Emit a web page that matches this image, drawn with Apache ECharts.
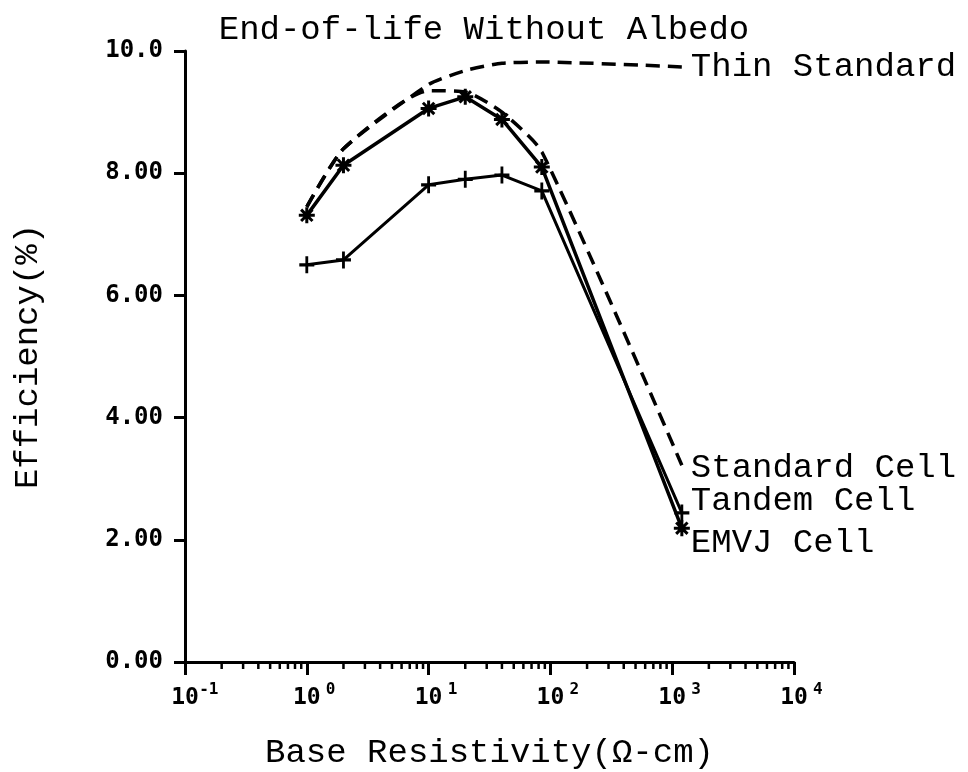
<!DOCTYPE html>
<html>
<head>
<meta charset="utf-8">
<script src="https://cdn.jsdelivr.net/npm/echarts@6/dist/echarts.min.js"></script>
<style>html,body{margin:0;padding:0;background:#fff}#c{width:968px;height:772px}</style>
</head>
<body>
<div id="c"></div>
<script>
// ---- data ----
const resistivity   = [1, 2, 10, 20, 40, 85, 1200];          // Ω-cm
const thinStandard  = [7.45, 8.40, 9.45, 9.68, 9.80, 9.82, 9.74];
const standardCell  = [7.45, 8.40, 9.35, 9.33, 9.00, 8.35, 3.22];
const tandemCell    = [6.50, 6.58, 7.81, 7.90, 7.97, 7.71, 2.44];
const emvjCell      = [7.31, 8.13, 9.06, 9.25, 8.88, 8.10, 2.19];
const seriesNames   = ['Thin Standard', 'Standard Cell', 'Tandem Cell', 'EMVJ Cell'];
const xTickExponents = ['-1', '0', '1', '2', '3', '4'];
const yTickLabels    = ['0.00', '2.00', '4.00', '6.00', '8.00', '10.0'];
const minorMultipliers = [2, 3, 4, 5, 6, 7, 8, 9];

const textFont = 'Liberation Mono';
const tickFont = 'DejaVu Sans Mono';

function pairs(vals) { return resistivity.map((r, i) => [r, vals[i]]); }

const minorTickValues = [];
xTickExponents.slice(0, -1).forEach(e => {
  minorMultipliers.forEach(k => minorTickValues.push([Number(k + 'e' + e), 0]));
});

const asterisk = 'path://M0 -8L0 8M-8 0L8 0M-5.7 -5.7L5.7 5.7M-5.7 5.7L5.7 -5.7';
const plus = 'path://M0 -8L0 8M-7 0L7 0';

function endLabel(name, dy) {
  return {
    show: true, formatter: name, distance: 9, offset: [0, dy],
    fontFamily: textFont, fontSize: 34, color: '#000'
  };
}

const chart = echarts.init(document.getElementById('c'), null, {renderer: 'canvas', width: 968, height: 772});
chart.setOption({
  animation: false,
  backgroundColor: '#fff',
  title: {
    text: 'End-of-life Without Albedo',
    left: 'center', top: 8,
    textStyle: {fontFamily: textFont, fontSize: 34, fontWeight: 'normal', color: '#000'}
  },
  grid: {left: 185, right: 174, top: 51, bottom: 110, outerBoundsMode: 'none', containLabel: false},
  xAxis: {
    type: 'log', logBase: 10, min: 0.1, max: 10000,
    name: 'Base Resistivity(Ω-cm)', nameLocation: 'middle', nameGap: 74,
    nameTextStyle: {fontFamily: textFont, fontSize: 34, color: '#000'},
    axisLine: {show: true, onZero: false, lineStyle: {color: '#000', width: 3}},
    axisTick: {show: true, length: 13, lineStyle: {color: '#000', width: 3}},
    minorTick: {show: false},
    splitLine: {show: false},
    axisLabel: {
      margin: 20, color: '#000',
      formatter: (v, i) => '{p| }{b|10}{s|' + xTickExponents[i] + '}',
      rich: {
        p: {width: 20, fontSize: 16},
        b: {fontFamily: tickFont, fontWeight: 'bold', fontSize: 23, color: '#000',
            lineHeight: 28, verticalAlign: 'bottom'},
        s: {fontFamily: tickFont, fontWeight: 'bold', fontSize: 16, color: '#000', width: 20,
            verticalAlign: 'top'}
      }
    }
  },
  yAxis: {
    type: 'value', min: 0, max: 10, interval: 2,
    name: 'Efficiency(%)', nameLocation: 'middle', nameGap: 140,
    nameTextStyle: {fontFamily: textFont, fontSize: 34, color: '#000'},
    axisLine: {show: true, lineStyle: {color: '#000', width: 3}},
    axisTick: {show: true, length: 11, lineStyle: {color: '#000', width: 3}},
    splitLine: {show: false},
    axisLabel: {
      margin: 22, color: '#000',
      fontFamily: tickFont, fontWeight: 'bold', fontSize: 24,
      formatter: (v, i) => yTickLabels[i]
    }
  },
  series: [
    {
      name: seriesNames[0], type: 'line', data: pairs(thinStandard), symbol: 'none', smooth: 0.2,
      lineStyle: {color: '#000', width: 3.5, type: [14, 8]}, endLabel: endLabel(seriesNames[0], 0)
    },
    {
      name: seriesNames[1], type: 'line', data: pairs(standardCell), symbol: 'none', smooth: 0.2,
      lineStyle: {color: '#000', width: 3.5, type: [14, 8]}, endLabel: endLabel(seriesNames[1], 3)
    },
    {
      name: seriesNames[2], type: 'line', data: pairs(tandemCell), symbol: plus, symbolSize: [15, 17],
      showAllSymbol: true,
      itemStyle: {color: '#000', borderColor: '#000', borderWidth: 3},
      lineStyle: {color: '#000', width: 3}, endLabel: endLabel(seriesNames[2], -12)
    },
    {
      name: seriesNames[3], type: 'line', data: pairs(emvjCell), symbol: asterisk, symbolSize: 16,
      showAllSymbol: true,
      itemStyle: {color: '#000', borderColor: '#000', borderWidth: 3},
      lineStyle: {color: '#000', width: 3.5}, endLabel: endLabel(seriesNames[3], 15)
    },
    {
      name: 'minor ticks', type: 'custom', silent: true, clip: false, z: 3,
      data: minorTickValues,
      renderItem: (params, api) => {
        const p = api.coord([api.value(0), 0]);
        return {type: 'line', shape: {x1: p[0], y1: p[1], x2: p[0], y2: p[1] + 7},
                style: {stroke: '#000', lineWidth: 2.5}};
      }
    }
  ]
});
</script>
</body>
</html>
